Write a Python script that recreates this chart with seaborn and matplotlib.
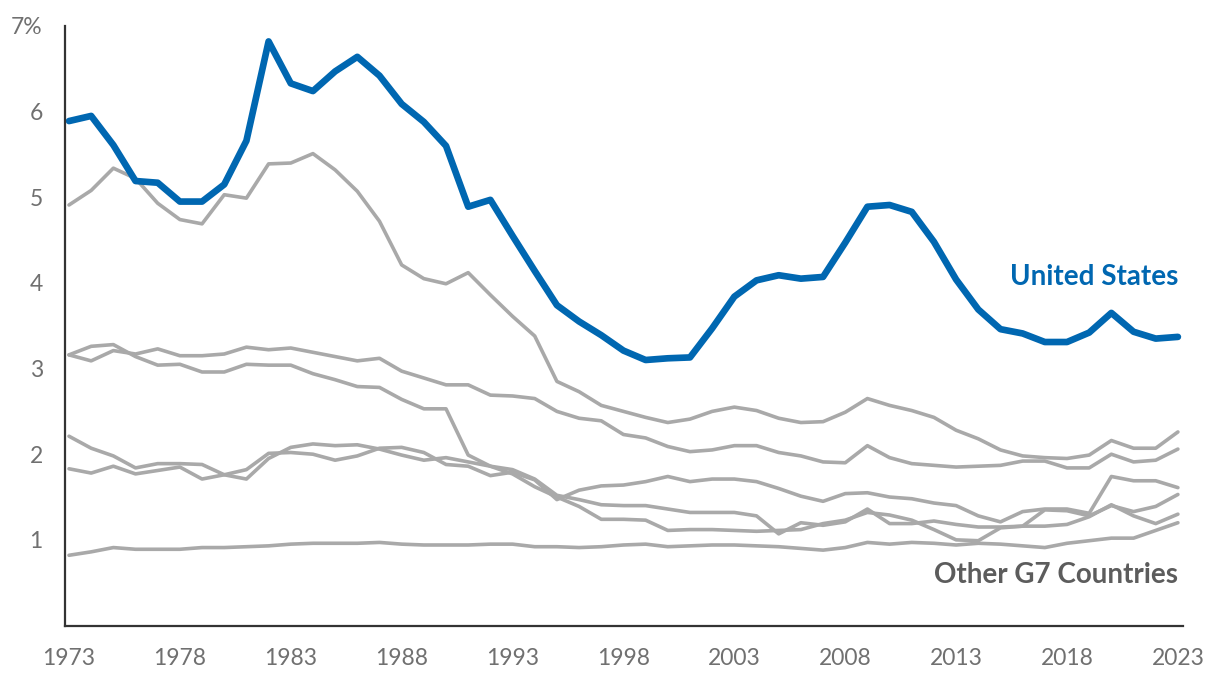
import matplotlib
matplotlib.use("Agg")
import matplotlib.pyplot as plt
import seaborn as sns
import pandas as pd

years = list(range(1973, 2024))

united_states = [5.89, 5.95, 5.61, 5.19, 5.17, 4.95, 4.95, 5.15, 5.66, 6.82,
                 6.33, 6.24, 6.47, 6.64, 6.42, 6.09, 5.88, 5.60, 4.89, 4.97,
                 4.55, 4.14, 3.74, 3.55, 3.39, 3.21, 3.10, 3.12, 3.13, 3.47,
                 3.84, 4.03, 4.09, 4.05, 4.07, 4.47, 4.89, 4.91, 4.83, 4.48,
                 4.04, 3.69, 3.46, 3.41, 3.31, 3.31, 3.42, 3.65, 3.43, 3.35, 3.37]

other_a = [4.91, 5.08, 5.34, 5.22, 4.93, 4.74, 4.69, 5.03, 4.99, 5.39,
           5.40, 5.51, 5.32, 5.07, 4.72, 4.21, 4.05, 3.99, 4.12, 3.86,
           3.61, 3.38, 2.85, 2.73, 2.57, 2.50, 2.43, 2.37, 2.41, 2.50,
           2.55, 2.51, 2.42, 2.37, 2.38, 2.49, 2.65, 2.57, 2.51, 2.43,
           2.28, 2.18, 2.05, 1.98, 1.96, 1.95, 1.99, 2.16, 2.07, 2.07, 2.26]

other_b = [3.16, 3.09, 3.21, 3.17, 3.23, 3.15, 3.15, 3.17, 3.25, 3.22,
           3.24, 3.19, 3.14, 3.09, 3.12, 2.97, 2.89, 2.81, 2.81, 2.69,
           2.68, 2.65, 2.50, 2.42, 2.39, 2.23, 2.19, 2.09, 2.03, 2.05,
           2.10, 2.10, 2.02, 1.98, 1.91, 1.90, 2.10, 1.96, 1.89, 1.87,
           1.85, 1.86, 1.87, 1.92, 1.92, 1.84, 1.84, 2.00, 1.91, 1.93, 2.06]

other_c = [3.16, 3.26, 3.28, 3.14, 3.04, 3.05, 2.96, 2.96, 3.05, 3.04,
           3.04, 2.94, 2.87, 2.79, 2.78, 2.64, 2.53, 2.53, 1.99, 1.86,
           1.77, 1.62, 1.50, 1.39, 1.24, 1.24, 1.23, 1.11, 1.12, 1.12,
           1.11, 1.10, 1.11, 1.12, 1.19, 1.23, 1.32, 1.29, 1.23, 1.12,
           1.00, 0.99, 1.14, 1.16, 1.35, 1.34, 1.28, 1.40, 1.33, 1.39, 1.53]

other_d = [2.21, 2.07, 1.98, 1.84, 1.89, 1.89, 1.88, 1.76, 1.71, 1.95,
           2.08, 2.12, 2.10, 2.11, 2.06, 1.99, 1.93, 1.96, 1.91, 1.86,
           1.82, 1.71, 1.52, 1.47, 1.41, 1.40, 1.40, 1.36, 1.32, 1.32,
           1.32, 1.28, 1.07, 1.20, 1.17, 1.21, 1.36, 1.19, 1.19, 1.22,
           1.18, 1.15, 1.15, 1.16, 1.16, 1.18, 1.27, 1.41, 1.28, 1.19, 1.30]

other_e = [1.83, 1.78, 1.86, 1.77, 1.81, 1.85, 1.71, 1.76, 1.82, 2.01,
           2.02, 2.00, 1.93, 1.98, 2.07, 2.08, 2.02, 1.88, 1.86, 1.75,
           1.79, 1.70, 1.47, 1.58, 1.63, 1.64, 1.68, 1.74, 1.68, 1.71,
           1.71, 1.68, 1.60, 1.51, 1.45, 1.54, 1.55, 1.50, 1.48, 1.43,
           1.40, 1.28, 1.21, 1.33, 1.36, 1.36, 1.31, 1.74, 1.69, 1.69, 1.61]

other_f = [0.82, 0.86, 0.91, 0.89, 0.89, 0.89, 0.91, 0.91, 0.92, 0.93,
           0.95, 0.96, 0.96, 0.96, 0.97, 0.95, 0.94, 0.94, 0.94, 0.95,
           0.95, 0.92, 0.92, 0.91, 0.92, 0.94, 0.95, 0.92, 0.93, 0.94,
           0.94, 0.93, 0.92, 0.90, 0.88, 0.91, 0.97, 0.95, 0.97, 0.96,
           0.94, 0.96, 0.95, 0.93, 0.91, 0.96, 0.99, 1.02, 1.02, 1.11, 1.20]

y_ticks = [1, 2, 3, 4, 5, 6, 7]
y_tick_labels = ["1", "2", "3", "4", "5", "6", "7%"]
x_ticks = list(range(1973, 2024, 5))

others = {"Other A": other_a, "Other B": other_b, "Other C": other_c,
          "Other D": other_d, "Other E": other_e, "Other F": other_f}

BLUE = "#0067B1"
GRAY = "#A9A9A9"

sns.set_theme(style="white")
plt.rcParams["font.family"] = ["Lato", "DejaVu Sans"]

fig = plt.figure(figsize=(12.2, 6.88), dpi=100)
ax = fig.add_axes([65 / 1220, 62.5 / 688, 1118 / 1220, 599.5 / 688])

for name, vals in others.items():
    df = pd.DataFrame({"year": years, "value": vals})
    sns.lineplot(data=df, x="year", y="value", ax=ax, color=GRAY,
                 linewidth=2.6, solid_capstyle="round", solid_joinstyle="round")

df_us = pd.DataFrame({"year": years, "value": united_states})
sns.lineplot(data=df_us, x="year", y="value", ax=ax, color=BLUE,
             linewidth=4.8, solid_capstyle="round", solid_joinstyle="round")

ax.set_xlim(1972.82, 2023.23)
ax.set_ylim(0, 7)
ax.set_xticks(x_ticks)
ax.set_yticks(y_ticks)
ax.set_yticklabels(y_tick_labels)
ax.set_xlabel("")
ax.set_ylabel("")

for s in ["top", "right"]:
    ax.spines[s].set_visible(False)
for s in ["left", "bottom"]:
    ax.spines[s].set_color("#333333")
    ax.spines[s].set_linewidth(1.6)

ax.tick_params(axis="both", length=7, width=1.3, color="#444444",
               labelcolor="#707070", labelsize=16.5)
ax.tick_params(axis="y", pad=9)
ax.tick_params(axis="x", pad=9)
ax.grid(False)

ax.text(2023.0, 3.98, "United States", ha="right", va="baseline",
        color=BLUE, fontsize=20, fontweight="bold")
ax.text(2023.0, 0.50, "Other G7 Countries", ha="right", va="baseline",
        color="#5c5c5c", fontsize=20, fontweight="bold")

fig.savefig("out.png", dpi=100)
